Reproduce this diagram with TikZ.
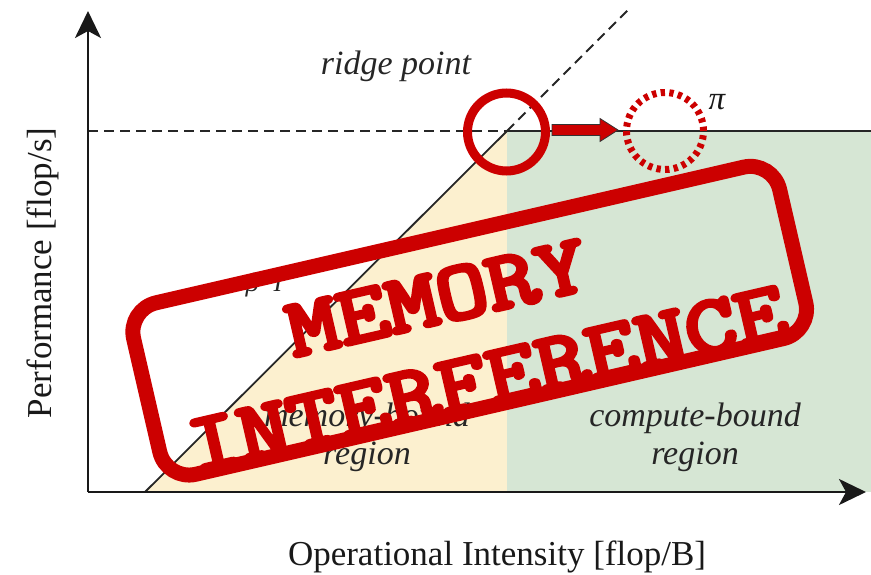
\documentclass[tikz,border=0pt]{standalone}
\usepackage{fontspec}
\setmainfont{Liberation Serif}
\usetikzlibrary{arrows.meta}
\definecolor{membg}{RGB}{252,240,207}
\definecolor{cmpbg}{RGB}{214,230,212}
\definecolor{stampred}{RGB}{204,0,0}
% heavy stamp lettering: glyphs are filled and stroked with a round-joined outline
\newcommand{\heavy}[1]{\special{pdf:literal 1 j 1 J 2 Tr 5.2 w}#1\special{pdf:literal 0 Tr}}
\tikzset{
  axisline/.style={line width=2.4pt, draw=black!90, -{Stealth[length=27pt,width=26pt,inset=7pt]}},
  roofline/.style={line width=2pt, draw=black!85},
  roofdash/.style={roofline, dash pattern=on 10pt off 6pt},
  regionlabel/.style={font=\fontsize{34}{38}\selectfont\itshape, align=center, text=black!85},
  axislabel/.style={font=\fontsize{35}{40}\selectfont, text=black!90},
  stamptext/.style={font=\ttfamily\fontsize{99}{99}\selectfont, text=stampred, rotate=13, yscale=0.84, inner sep=0pt},
  ringmark/.style={draw=stampred, line width=9pt},
  ringdash/.style={draw=stampred, line width=7pt, dash pattern=on 4.3pt off 4.34pt},
}
\begin{document}
\begin{tikzpicture}[x=1pt, y=-1pt]
  \useasboundingbox (0,0) rectangle (871,575);

  % key points of the roofline
  \coordinate (O) at (88,492);
  \coordinate (ytip) at (88,11);
  \coordinate (xtip) at (866,492);
  \coordinate (foot) at (145,492);
  \coordinate (R) at (507,131);
  \coordinate (Rb) at (507,492);
  \coordinate (roofend) at (871,131);
  \coordinate (roofstart) at (88,131);
  \coordinate (slopeend) at (630,8);

  % shaded regions
  \fill[membg] (foot) -- (R) -- (Rb) -- cycle;
  \fill[cmpbg] (R) rectangle (871,492);

  % roof lines
  \draw[roofdash] (roofstart) -- (R);
  \draw[roofline] (R) -- (roofend);
  \draw[roofline, line width=1.8pt] (foot) -- (R);
  \draw[roofdash, line width=1.8pt] (R) -- (slopeend);

  % axes
  \draw[axisline] (O) -- (ytip);
  \draw[axisline] (O) -- (xtip);

  % labels
  \node[axislabel, anchor=base] (xlab) at (497,565) {Operational Intensity [flop/B]};
  \node[axislabel, rotate=90, anchor=base] (ylab) at (51,273) {Performance [flop/s]};
  \node[regionlabel] (ridge) at (396,66) {ridge point};
  \node[regionlabel] (cmp) at (695,437) {compute-bound\\region};
  \node[regionlabel] (mem) at (367,437) {memory-bound\\region};
  \node[font=\fontsize{26}{26}\selectfont\itshape, text=black!85, anchor=base] (slope) at (264,291) {β\,·\,I};
  \node[font=\fontsize{33}{33}\selectfont\itshape, text=black!90, anchor=base] (pi) at (717,110) {π};

  % ridge point marker, shift arrow and target
  \node[circle, ringmark, minimum size=78pt, inner sep=0pt] (ring) at (506.5,132) {};
  \node[circle, ringdash, minimum size=77pt, inner sep=0pt] (target) at (665,131) {};
  \draw[fill=stampred, draw=black!80, line width=0.8pt]
    (552,124.5) -- (600,124.5) -- (600,118.5) -- (618,130) -- (600,141.5) -- (600,135.5) -- (552,135.5) -- cycle;

  % stamp
  \begin{scope}[shift={(469.7,320.7)}, rotate=13]
    \draw[stampred, line width=15pt, rounded corners=30pt] (-331.5,-88) rectangle (331.5,88);
  \end{scope}
  \node[stamptext] (s1) at (437,298) {\heavy{MEMORY}};
  \node[stamptext] (s2) at (487,379) {\heavy{INTERFERENCE}};
\end{tikzpicture}
\end{document}
